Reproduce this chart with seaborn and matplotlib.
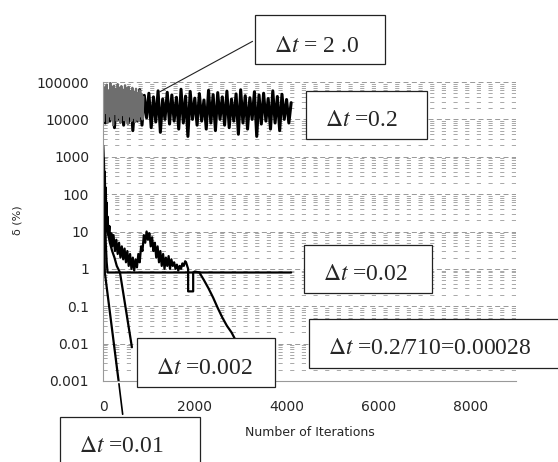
import numpy as np
import pandas as pd
import seaborn as sns
import matplotlib.pyplot as plt
from matplotlib.patches import Rectangle

# --- data (iteration, delta %) ---
# dt = 0.2 : oscillating band, one sample every 50 iterations
band02_iter = [0, 50, 100, 150, 200, 250, 300, 350, 400, 450,
               500, 550, 600, 650, 700, 750, 800, 850, 900, 950,
               1000, 1050, 1100, 1150, 1200, 1250, 1300, 1350, 1400, 1450,
               1500, 1550, 1600, 1650, 1700, 1750, 1800, 1850, 1900, 1950,
               2000, 2050, 2100, 2150, 2200, 2250, 2300, 2350, 2400, 2450,
               2500, 2550, 2600, 2650, 2700, 2750, 2800, 2850, 2900, 2950,
               3000, 3050, 3100, 3150, 3200, 3250, 3300, 3350, 3400, 3450,
               3500, 3550, 3600, 3650, 3700, 3750, 3800, 3850, 3900, 3950,
               4000, 4050, 4100]
band02_val = [30000, 8000, 52000, 9000, 41000, 6000, 60000, 10000, 38000, 7000,
              47000, 8000, 55000, 5000, 36000, 9000, 62000, 7000, 44000, 11000,
              50000, 6000, 40000, 8500, 58000, 4500, 35000, 10000, 53000, 7500,
              45000, 9000, 39000, 5500, 64000, 8000, 42000, 3500, 56000, 10000,
              37000, 7000, 49000, 9000, 33000, 5500, 60000, 8000, 46000, 5000,
              52000, 10000, 40000, 7000, 57000, 6000, 35000, 9000, 48000, 4000,
              62000, 8000, 43000, 5500, 38000, 10000, 55000, 3500, 45000, 7500,
              50000, 9000, 36000, 5500, 58000, 8000, 41000, 5000, 47000, 10000,
              34000, 8000, 28000]

# dt = 2.0 : grey band at the start
band20_iter = [0, 20, 40, 60, 80, 100, 120, 140, 160, 180,
               200, 220, 240, 260, 280, 300, 320, 340, 360, 380,
               400, 420, 440, 460, 480, 500, 520, 540, 560, 580,
               600, 620, 640, 660, 680, 700, 720, 740, 760, 780,
               800, 820, 840, 860, 880]
band20_val = [90000, 9000, 70000, 15000, 85000, 8000, 60000, 12000, 95000, 10000,
              75000, 7000, 80000, 14000, 65000, 9000, 88000, 11000, 70000, 8000,
              78000, 13000, 62000, 9500, 82000, 10000, 68000, 7500, 74000, 12000,
              58000, 9000, 70000, 11000, 55000, 8500, 66000, 10000, 50000, 9000,
              60000, 12000, 48000, 10000, 40000]

# dt = 0.02 : stalls just under 1 %
dt002f_iter = [0, 10, 20, 30, 40, 60, 80, 100, 4100]
dt002f_val = [2000, 100, 600, 40, 80, 5, 1.5, 0.8, 0.8]

# dt = 0.01
dt001_iter = [0, 15, 40, 340]
dt001_val = [2000, 60, 0.8, 0.001]

# dt = 0.002
dt0002_iter = [0, 20, 50, 100, 150, 200, 250, 300, 370, 630]
dt0002_val = [2000, 300, 40, 10, 5, 3, 2, 1.2, 0.8, 0.008]

# dt = 0.2/710 = 0.00028 : noisy, then converges
dt28_iter = [0, 10, 20, 30, 40, 50, 60, 70, 80, 90, 100, 120, 140, 160, 180, 200,
             230, 260, 290, 320, 350, 380, 410, 440, 470, 500, 530, 560, 590,
             620, 650, 680, 710, 740, 770, 800, 830, 860, 890, 920, 950, 980,
             1010, 1040, 1070, 1100, 1130, 1160, 1190, 1220, 1250, 1280, 1310,
             1340, 1370, 1400, 1430, 1460, 1490, 1520, 1550, 1580, 1610, 1640,
             1670, 1700, 1730, 1760, 1790, 1810, 1855, 1855, 1965, 1965, 2000,
             2100, 2200, 2300, 2400, 2500, 2600, 2700, 2800, 2880]
dt28_val = [2000, 300, 900, 100, 400, 40, 150, 15, 60, 10, 25, 8, 14, 5, 9, 4,
            8, 3, 6, 2.5, 5, 2, 4, 1.8, 3.5, 1.5, 3, 1.2, 2.5,
            1, 2, 0.9, 1.8, 1.1, 2.5, 1.5, 4, 3, 8, 5, 10, 6,
            9, 4, 7, 3, 5, 2, 4, 1.5, 3, 1.2, 2.5,
            1, 2, 1.2, 2.2, 1, 1.8, 1.2, 1.5, 1, 1.3, 0.9,
            1.2, 1, 1.4, 1.2, 1.6, 1.5, 1.0, 0.25, 0.25, 0.8, 0.85,
            0.8, 0.5, 0.3, 0.17, 0.09, 0.05, 0.03, 0.02, 0.013]

labels = [r'$\Delta t$ = 2 .0', r'$\Delta t$ =0.2', r'$\Delta t$ =0.02',
          r'$\Delta t$ =0.2/710=0.00028', r'$\Delta t$ =0.002', r'$\Delta t$ =0.01']

sns.set_style('white')
plt.rcParams['font.family'] = ['DejaVu Sans']
plt.rcParams['mathtext.fontset'] = 'stix'

W, H = 558, 462
fig = plt.figure(figsize=(W / 100, H / 100), dpi=100)
ax = fig.add_axes([103 / W, 1 - 381 / H, (516 - 103) / W, (381 - 82) / H])


def series(xs, ys):
    return pd.DataFrame({'iteration': xs, 'delta': ys})


sns.lineplot(data=series(band02_iter, band02_val), x='iteration', y='delta',
             ax=ax, color='black', lw=2.2, estimator=None, sort=False)
sns.lineplot(data=series(band20_iter, band20_val), x='iteration', y='delta',
             ax=ax, color='#6e6e6e', lw=1.6, estimator=None, sort=False)
for xs, ys in [(dt002f_iter, dt002f_val), (dt001_iter, dt001_val),
               (dt0002_iter, dt0002_val), (dt28_iter, dt28_val)]:
    sns.lineplot(data=series(xs, ys), x='iteration', y='delta', ax=ax,
                 color='black', lw=1.6, estimator=None, sort=False)

ax.set_yscale('log')
ax.set_xlim(0, 9000)
ax.set_ylim(0.001, 100000)
ax.set_yticks([1e-3, 1e-2, 1e-1, 1, 10, 100, 1000, 10000, 100000])
ax.set_yticklabels(['0.001', '0.01', '0.1', '1', '10', '100', '1000', '10000', '100000'])
ax.set_xticks([0, 2000, 4000, 6000, 8000])
ax.set_xticklabels(['0', '2000', '4000', '6000', '8000'])
ax.tick_params(axis='y', length=0, pad=10, labelsize=10)
ax.tick_params(axis='x', direction='in', length=4, color='#777777', pad=14, labelsize=10)
ax.set_xlabel('Number of Iterations', fontsize=9, labelpad=8)
ax.set_ylabel('')
fig.text(18 / W, 1 - 220 / H, 'δ (%)', rotation=90, fontsize=8, ha='center', va='center')

ax.grid(True, which='major', axis='y', color='#888888', lw=0.6, ls=(0, (6, 4)))
ax.grid(True, which='minor', axis='y', color='#9a9a9a', lw=0.6, ls=(0, (5, 9)))
ax.grid(False, axis='x')
for side in ['top', 'right']:
    ax.spines[side].set_visible(False)
ax.spines['bottom'].set_color('#999999')
ax.spines['left'].set_color('#999999')
ax.spines['bottom'].set_linewidth(0.8)
ax.spines['left'].set_linewidth(0.8)

# label boxes (pixel boxes: left, top, width, height)
boxes = [(255, 15, 130, 49), (306, 91, 121, 48), (304, 245, 128, 48),
         (309, 319, 260, 49), (137, 338, 138, 49), (60, 417, 140, 60)]
text_y = [47, 121, 275, 349, 368, 447]
for (bx, by, bw, bh), ty, lab in zip(boxes, text_y, labels):
    fig.add_artist(Rectangle((bx / W, 1 - (by + bh) / H), bw / W, bh / H,
                             transform=fig.transFigure, facecolor='white',
                             edgecolor='#222222', lw=0.9, zorder=5))
    fig.text((bx + 19) / W, 1 - ty / H, lab, fontsize=17, family='Liberation Serif',
             ha='left', va='center', zorder=6)

ax.annotate('', xy=(1180, 50000), xycoords='data',
            xytext=(255 / W, 1 - 40 / H), textcoords='figure fraction',
            arrowprops=dict(arrowstyle='-', lw=0.8, color='#222222'))
ax.annotate('', xy=(340, 0.001), xycoords='data',
            xytext=(123 / W, 1 - 417 / H), textcoords='figure fraction',
            arrowprops=dict(arrowstyle='-', lw=1.2, color='black'))

fig.savefig('out.png', dpi=100)
